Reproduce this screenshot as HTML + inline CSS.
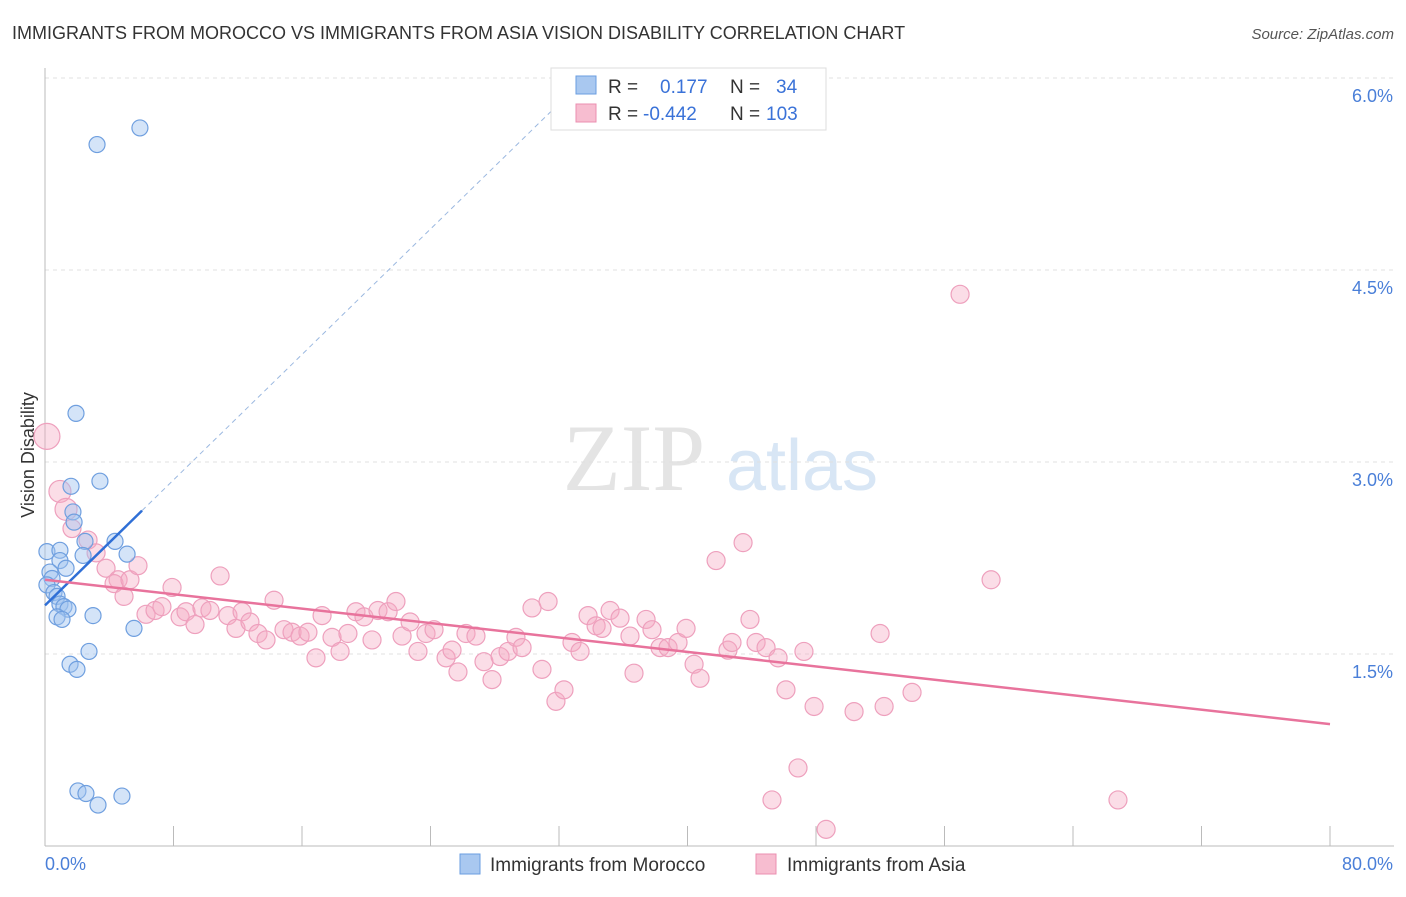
<!DOCTYPE html>
<html><head><meta charset="utf-8"><style>
body{margin:0;background:#fff;font-family:"Liberation Sans",sans-serif}
</style></head><body>
<svg id="chart" width="1406" height="892" xmlns="http://www.w3.org/2000/svg" font-family="Liberation Sans, sans-serif">
<text x="12" y="39" font-size="18" fill="#333">IMMIGRANTS FROM MOROCCO VS IMMIGRANTS FROM ASIA VISION DISABILITY CORRELATION CHART</text>
<text x="1394" y="39" font-size="15" fill="#555" font-style="italic" text-anchor="end">Source: ZipAtlas.com</text>
<g><text x="634" y="490" font-size="95" fill="#e4e4e4" font-family="Liberation Serif, serif" text-anchor="middle">ZIP</text><text x="802" y="490" font-size="72" fill="#d8e6f5" text-anchor="middle">atlas</text></g>
<g id="grid"></g><g id="axes"></g><g id="marks"></g>
<g>
<rect x="551" y="68" width="275" height="62" fill="#fff" stroke="#ddd"/>
<rect x="576" y="76" width="20" height="18" fill="#a9c8f0" stroke="#6a9ee0"/>
<rect x="576" y="104" width="20" height="18" fill="#f7bdd0" stroke="#eb8fb0"/>
<text x="608" y="93" font-size="19" fill="#333">R =</text><text x="660" y="93" font-size="19" fill="#3a72d8">0.177</text>
<text x="730" y="93" font-size="19" fill="#333">N =</text><text x="776" y="93" font-size="19" fill="#3a72d8">34</text>
<text x="608" y="120" font-size="19" fill="#333">R =</text><text x="643" y="120" font-size="19" fill="#3a72d8">-0.442</text>
<text x="730" y="120" font-size="19" fill="#333">N =</text><text x="766" y="120" font-size="19" fill="#3a72d8">103</text>
</g>
<g>
<rect x="460" y="854" width="20" height="20" fill="#a9c8f0" stroke="#6a9ee0"/>
<text x="490" y="871" font-size="19" fill="#333">Immigrants from Morocco</text>
<rect x="756" y="854" width="20" height="20" fill="#f7bdd0" stroke="#eb8fb0"/>
<text x="787" y="871" font-size="19" fill="#333">Immigrants from Asia</text>
</g>
</svg>
<script>
const yTicks=[1.5,3.0,4.5,6.0];
const yTickLabels=["1.5%","3.0%","4.5%","6.0%"];
const xTickLabels=["0.0%","80.0%"];
const blueX=[3.24,5.91,1.93,1.62,3.42,1.74,1.81,2.49,4.36,5.11,0.12,0.93,0.93,2.37,1.31,0.31,0.44,0.12,0.56,0.75,0.93,1.18,1.43,0.75,1.06,2.99,5.54,2.74,1.56,1.99,2.05,2.55,3.30,4.79];
const blueY=[5.48,5.61,3.38,2.81,2.85,2.61,2.53,2.38,2.38,2.28,2.30,2.31,2.23,2.27,2.17,2.14,2.09,2.04,1.98,1.95,1.89,1.87,1.85,1.79,1.77,1.80,1.70,1.52,1.42,1.38,0.43,0.41,0.32,0.39];
const pinkX=[0.12,0.93,1.31,1.68,2.68,3.18,3.80,4.55,4.30,4.92,5.29,5.79,6.29,6.85,7.28,7.91,8.41,8.78,9.34,9.77,10.27,10.90,11.39,11.89,12.27,12.76,13.26,13.76,14.26,14.88,15.38,15.88,16.37,16.87,17.25,17.87,18.37,18.86,19.36,19.86,20.36,20.73,21.36,21.85,22.23,22.73,23.22,23.72,24.22,24.97,25.34,25.71,26.21,26.83,27.33,27.83,28.33,28.83,29.32,29.70,30.32,30.94,31.32,31.81,32.31,32.81,33.31,33.81,34.31,34.68,35.18,35.80,36.42,36.67,37.42,37.79,38.29,38.79,39.41,39.91,40.41,40.78,41.78,42.52,42.77,43.46,43.89,44.27,44.89,45.26,45.64,46.13,46.88,47.25,47.88,48.63,50.37,51.99,52.24,53.98,56.97,58.90,66.80];
const pinkY=[3.20,2.77,2.63,2.48,2.39,2.29,2.17,2.08,2.05,1.95,2.08,2.19,1.81,1.84,1.87,2.02,1.79,1.83,1.73,1.86,1.84,2.11,1.80,1.70,1.83,1.75,1.66,1.61,1.92,1.69,1.67,1.64,1.67,1.47,1.80,1.63,1.52,1.66,1.83,1.79,1.61,1.84,1.83,1.91,1.64,1.75,1.52,1.66,1.69,1.47,1.53,1.36,1.66,1.64,1.44,1.30,1.48,1.52,1.63,1.55,1.86,1.38,1.91,1.13,1.22,1.59,1.52,1.80,1.72,1.70,1.84,1.78,1.64,1.35,1.77,1.69,1.55,1.55,1.59,1.70,1.42,1.31,2.23,1.53,1.59,2.37,1.77,1.59,1.55,0.36,1.47,1.22,0.61,1.52,1.09,0.13,1.05,1.66,1.09,1.20,4.31,2.08,0.36];
const blueTrend=[1.88,0.1225];
const pinkTrend=[2.08,-0.0141];
const NS="http://www.w3.org/2000/svg";
const X=v=>45+v/80*1285, Y=v=>846-v*128;
function mk(p,t,a){const e=document.createElementNS(NS,t);for(const k in a)e.setAttribute(k,a[k]);p.appendChild(e);return e;}
const grid=document.getElementById('grid'),axes=document.getElementById('axes'),marks=document.getElementById('marks');
yTicks.forEach((t,i)=>{
 const l=mk(grid,'line',{x1:45,x2:1394,y1:Y(t),y2:Y(t),stroke:'#e0e0e0','stroke-dasharray':'4,4'});
 
 
 const tx=mk(grid,'text',{x:1393,y:Y(t)+24,'font-size':18,fill:'#4a7fd8','text-anchor':'end'});tx.textContent=yTickLabels[i];
 
 
});
const ax=mk(axes,'line',{x1:45,x2:45,y1:68,y2:846,stroke:'#bbb'});


const bx=mk(axes,'line',{x1:45,x2:1394,y1:846,y2:846,stroke:'#bbb'});


for(let v=0;v<=80;v+=8){const t=mk(axes,'line',{x1:X(v),x2:X(v),y1:826,y2:846,stroke:'#bbb'});
 
 }
const xl0=mk(axes,'text',{x:45,y:870,'font-size':18,fill:'#4a7fd8'});xl0.textContent=xTickLabels[0];


const xl1=mk(axes,'text',{x:1393,y:870,'font-size':18,fill:'#4a7fd8','text-anchor':'end'});xl1.textContent=xTickLabels[1];


const yt=mk(axes,'text',{x:34,y:455,'font-size':18,fill:'#333','text-anchor':'middle',transform:'rotate(-90 34 455)'});yt.textContent='Vision Disability';


pinkX.forEach((x,i)=>{const c=mk(marks,'circle',{cx:X(x),cy:Y(pinkY[i]),r:i===0?13:(i<3?11:9),fill:'rgba(244,170,196,0.4)',stroke:'#eea0bd','stroke-width':1.2});
 
 });
blueX.forEach((x,i)=>{const c=mk(marks,'circle',{cx:X(x),cy:Y(blueY[i]),r:8,fill:'rgba(160,195,240,0.45)',stroke:'#6f9fdf','stroke-width':1.2});
 
 });
const xEnd=(6.0-blueTrend[0])/blueTrend[1];
const bd=mk(marks,'line',{x1:X(6.04),y1:Y(blueTrend[0]+blueTrend[1]*6.04),x2:X(xEnd),y2:Y(6.0),stroke:'#9bb8e0','stroke-dasharray':'5,4','stroke-width':1});


const bt=mk(marks,'line',{x1:X(0),y1:Y(blueTrend[0]),x2:X(6.04),y2:Y(blueTrend[0]+blueTrend[1]*6.04),stroke:'#2f6fd6','stroke-width':2.5});


const pt=mk(marks,'line',{x1:X(0),y1:Y(pinkTrend[0]),x2:X(80),y2:Y(pinkTrend[0]+pinkTrend[1]*80),stroke:'#e8739c','stroke-width':2.5});


</script>
</body></html>
